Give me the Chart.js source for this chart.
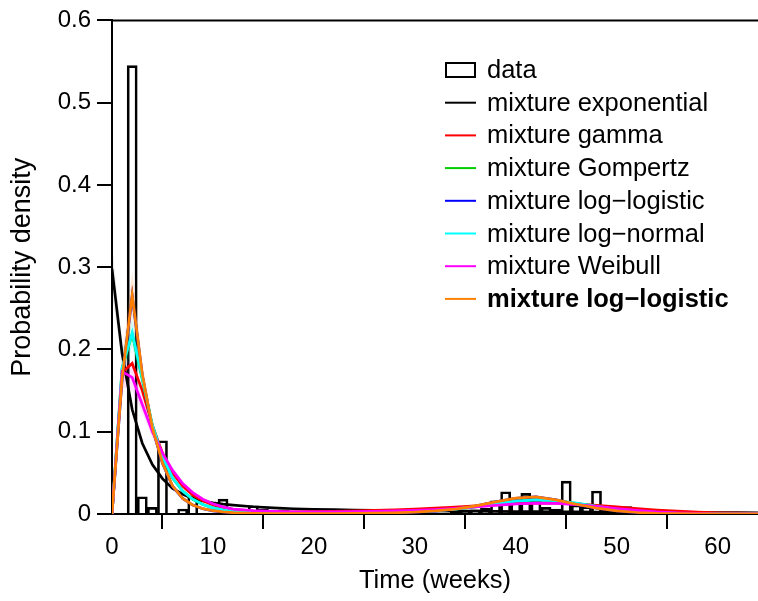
<!DOCTYPE html>
<html>
<head>
<meta charset="utf-8">
<script src="https://cdn.jsdelivr.net/npm/chart.js@4.4.1/dist/chart.umd.min.js"></script>
<style>
  html, body { margin: 0; padding: 0; background: #fff; }
</style>
</head>
<body>
<canvas id="chart" width="758" height="601"></canvas>
<script>
// Histogram bins (centre of each 1-week bin) and observed density
const binWeeks = [0, 1, 2, 3, 4, 5, 6, 7, 8, 9, 10, 11, 12, 13, 14, 15, 16, 17, 18, 19,
  20, 21, 22, 23, 24, 25, 26, 27, 28, 29, 30, 31, 32, 33, 34, 35, 36, 37, 38, 39,
  40, 41, 42, 43, 44, 45, 46, 47, 48, 49, 50, 51, 52, 53, 54, 55, 56, 57, 58, 59,
  60, 61, 62, 63];
const histDensity = [0, 0, 0.545, 0.021, 0.008, 0.089, 0, 0.006, 0.022, 0,
  0, 0.018, 0, 0, 0.010, 0.006, 0, 0.005, 0, 0.003,
  0, 0, 0.002, 0, 0, 0, 0, 0, 0, 0,
  0, 0, 0, 0.001, 0.002, 0.003, 0.005, 0.007, 0.016, 0.027,
  0.017, 0.025, 0.017, 0.008, 0.006, 0.040, 0.011, 0.009, 0.028, 0.006,
  0, 0.009, 0, 0, 0.004, 0, 0, 0.003, 0, 0,
  0, 0, 0.002, 0];

// Weeks where the fitted curves are evaluated
const curveWeeks = [0, 1, 2, 3, 4, 5, 6, 7, 8, 9, 10, 11, 12, 14, 16, 18, 20, 22, 24, 26,
  28, 30, 32, 34, 36, 38, 40, 42, 44, 46, 48, 50, 52, 54, 56, 58, 60, 62, 64];

const expFit = [0.298, 0.195, 0.127, 0.086, 0.060, 0.043, 0.031, 0.024, 0.019, 0.0158,
  0.0137, 0.012, 0.0108, 0.0088, 0.0074, 0.0064, 0.0057, 0.0052, 0.0048, 0.0045,
  0.0042, 0.0040, 0.0038, 0.0036, 0.0034, 0.0032, 0.0030, 0.0028, 0.0027, 0.0025,
  0.0024, 0.0022, 0.0021, 0.0020, 0.0019, 0.0018, 0.0017, 0.0016, 0.0015];
const gammaFit = [0, 0.172, 0.183, 0.150, 0.108, 0.074, 0.050, 0.034, 0.023, 0.016,
  0.011, 0.0078, 0.0057, 0.0035, 0.0028, 0.0026, 0.0028, 0.0032, 0.0037, 0.0043,
  0.0051, 0.0060, 0.0071, 0.0084, 0.0099, 0.0114, 0.0126, 0.0132, 0.0131, 0.0122,
  0.0106, 0.0086, 0.0066, 0.0048, 0.0034, 0.0023, 0.0015, 0.0010, 0.0007];
const gompertzFit = [0, 0.177, 0.219, 0.164, 0.1075, 0.0695, 0.0437, 0.0278, 0.0179, 0.0114,
  0.0074, 0.0049, 0.0032, 0.0017, 0.0011, 0.0009, 0.0009, 0.0010, 0.0012, 0.0015,
  0.0020, 0.0028, 0.0040, 0.0059, 0.0087, 0.0123, 0.0156, 0.0171, 0.0161, 0.0131,
  0.0093, 0.0057, 0.0031, 0.0015, 0.0007, 0.0003, 0.0001, 0.0001, 0];
const logLogisticFit = [0, 0.164, 0.265, 0.169, 0.1045, 0.0617, 0.0338, 0.0189, 0.0109, 0.0064,
  0.0039, 0.0024, 0.0015, 0.0007, 0.0004, 0.0003, 0.0003, 0.0004, 0.0006, 0.0009,
  0.0014, 0.0022, 0.0036, 0.0059, 0.0097, 0.0147, 0.0191, 0.0207, 0.0171, 0.0117,
  0.0071, 0.0037, 0.0017, 0.0007, 0.0003, 0.0002, 0.0001, 0.0001, 0.0001];
const logNormalFit = [0, 0.178, 0.220, 0.165, 0.108, 0.070, 0.044, 0.028, 0.018, 0.0115,
  0.0075, 0.0050, 0.0033, 0.0018, 0.0012, 0.0010, 0.0010, 0.0011, 0.0013, 0.0016,
  0.0021, 0.0029, 0.0041, 0.0060, 0.0088, 0.0124, 0.0157, 0.0172, 0.0162, 0.0132,
  0.0094, 0.0058, 0.0032, 0.0016, 0.0008, 0.0004, 0.0002, 0.0001, 0.0001];
const weibullFit = [0, 0.173, 0.166, 0.133, 0.100, 0.074, 0.053, 0.037, 0.026, 0.018,
  0.0125, 0.0087, 0.0060, 0.0041, 0.0031, 0.0026, 0.0025, 0.0026, 0.0029, 0.0033,
  0.0038, 0.0045, 0.0055, 0.0069, 0.0087, 0.0106, 0.0122, 0.0131, 0.0128, 0.0114,
  0.0092, 0.0067, 0.0044, 0.0026, 0.0014, 0.0007, 0.0003, 0.0002, 0.0001];
const bestFit = [0, 0.165, 0.266, 0.170, 0.105, 0.062, 0.034, 0.019, 0.011, 0.0065,
  0.0040, 0.0025, 0.0016, 0.0008, 0.0005, 0.0004, 0.0004, 0.0005, 0.0007, 0.0010,
  0.0015, 0.0023, 0.0037, 0.0060, 0.0098, 0.0148, 0.0192, 0.0208, 0.0172, 0.0118,
  0.0072, 0.0038, 0.0018, 0.0008, 0.0004, 0.0002, 0.0001, 0.0001, 0.0001];

// Confidence bands (early peak and second hump)
const bandWeeks = [0, 1, 2, 3, 4, 5, 6, 7, 8];
const bestUpper = [0, 0.190, 0.295, 0.185, 0.112, 0.068, 0.038, 0.021, 0.012];
const bestLower = [0, 0.140, 0.240, 0.155, 0.098, 0.058, 0.031, 0.017, 0.010];
const logNormalUpper = [0, 0.198, 0.236, 0.176, 0.114, 0.074, 0.047, 0.030, 0.019];
const logNormalLower = [0, 0.158, 0.204, 0.154, 0.102, 0.066, 0.041, 0.026, 0.017];
const weibullUpper = [0, 0.192, 0.182, 0.143, 0.107, 0.079, 0.057, 0.040, 0.028];
const weibullLower = [0, 0.154, 0.150, 0.123, 0.093, 0.069, 0.049, 0.034, 0.024];
const expBandWeeks = [0, 1, 2, 3];
const expUpper = [0.330, 0.207, 0.133, 0.089];
const expLower = [0.268, 0.183, 0.121, 0.083];
const humpWeeks = [34, 36, 38, 40, 42, 44, 46, 48, 50];
const bestHumpUpper = [0.0068, 0.0108, 0.0162, 0.0208, 0.0225, 0.0188, 0.0130, 0.0081, 0.0044];
const bestHumpLower = [0.0052, 0.0088, 0.0134, 0.0176, 0.0191, 0.0156, 0.0106, 0.0063, 0.0032];

const legendLabels = ["data", "mixture exponential", "mixture gamma", "mixture Gompertz",
  "mixture log\u2212logistic", "mixture log\u2212normal", "mixture Weibull", "mixture log\u2212logistic"];
const legendColors = ["#000000", "#000000", "#ff0000", "#00cc00", "#0000ff", "#00ffff", "#ff00ff", "#ff8000"];

Chart.defaults.font.family = "'Liberation Sans', Arial, Helvetica, sans-serif";
Chart.defaults.color = "#000";

function points(xs, ys) {
  return xs.map(function (x, i) { return { x: x, y: ys[i] }; });
}

function curve(label, ys, color, order) {
  return {
    type: "line", label: label, data: points(curveWeeks, ys),
    borderColor: color, borderWidth: 2.7, pointRadius: 0, tension: 0,
    fill: false, order: order
  };
}

// lower edge then upper edge filled down to it
function band(xs, lower, upper, color) {
  return [
    { type: "line", data: points(xs, lower), borderWidth: 0, pointRadius: 0, fill: false, order: 8 },
    { type: "line", data: points(xs, upper), borderWidth: 0, pointRadius: 0, fill: "-1",
      backgroundColor: color, order: 8 }
  ];
}

// top frame line
const topFrame = {
  id: "topFrame",
  afterDatasetsDraw(chart) {
    const ctx = chart.ctx;
    const a = chart.chartArea;
    ctx.save();
    ctx.strokeStyle = "#000";
    ctx.lineWidth = 2;
    ctx.beginPath();
    ctx.moveTo(a.left - 1, a.top);
    ctx.lineTo(a.right, a.top);
    ctx.stroke();
    ctx.restore();
  }
};

// legend drawn inside the plot
const insideLegend = {
  id: "insideLegend",
  afterDraw(chart) {
    const ctx = chart.ctx;
    const x0 = 445, y0 = 70, step = 32.7;
    ctx.save();
    ctx.textBaseline = "middle";
    ctx.fillStyle = "#000";
    legendLabels.forEach(function (text, i) {
      const y = y0 + i * step;
      ctx.lineWidth = 2;
      ctx.strokeStyle = legendColors[i];
      if (i === 0) {
        ctx.strokeRect(x0 + 1, y - 7, 29, 14);
      } else {
        ctx.beginPath();
        ctx.moveTo(x0, y);
        ctx.lineTo(x0 + 31, y);
        ctx.stroke();
      }
      ctx.font = (i === legendLabels.length - 1 ? "bold " : "") + "25.5px 'Liberation Sans', Arial, sans-serif";
      ctx.fillText(text, x0 + 42, y + 1);
    });
    ctx.restore();
  }
};

const axisGrid = {
  drawOnChartArea: false, drawTicks: true, tickLength: 15, color: "#000", lineWidth: 2
};

const myChart = new Chart(document.getElementById("chart"), {
  type: "bar",
  data: {
    datasets: [
      curve("mixture log-logistic (best)", bestFit, "#ff8000", 0),
      curve("mixture Weibull", weibullFit, "#ff00ff", 1),
      curve("mixture log-normal", logNormalFit, "#00ffff", 2),
      curve("mixture log-logistic", logLogisticFit, "#0000ff", 3),
      curve("mixture Gompertz", gompertzFit, "#00cc00", 4),
      curve("mixture gamma", gammaFit, "#ff0000", 5),
      curve("mixture exponential", expFit, "#000000", 6),
      ...band(bandWeeks, bestLower, bestUpper, "rgba(255,140,40,0.2)"),
      ...band(bandWeeks, logNormalLower, logNormalUpper, "rgba(0,230,230,0.2)"),
      ...band(bandWeeks, weibullLower, weibullUpper, "rgba(255,0,255,0.12)"),
      ...band(expBandWeeks, expLower, expUpper, "rgba(0,0,0,0.08)"),
      ...band(humpWeeks, bestHumpLower, bestHumpUpper, "rgba(255,140,40,0.2)"),
      {
        type: "bar", label: "data", data: points(binWeeks, histDensity),
        backgroundColor: "rgba(0,0,0,0)", borderColor: "#000", borderWidth: 2,
        barPercentage: 1, categoryPercentage: 1, order: 10
      }
    ]
  },
  options: {
    responsive: false,
    animation: false,
    layout: { padding: { top: 20, right: 0, left: 0, bottom: 0 } },
    plugins: { legend: { display: false }, tooltip: { enabled: false } },
    scales: {
      x: {
        type: "linear", min: 0, max: 64, offset: false,
        grid: axisGrid,
        border: { display: true, color: "#000", width: 2 },
        ticks: { stepSize: 10, includeBounds: false, maxRotation: 0, padding: 4, font: { size: 24 } },
        afterBuildTicks(scale) { scale.ticks = scale.ticks.filter(function (t) { return t.value % 10 === 0; }); },
        title: { display: true, text: "Time (weeks)", font: { size: 25.5 }, padding: { top: 0, bottom: 5 } },
        afterFit(scale) { scale.height = 87; }
      },
      y: {
        min: 0, max: 0.6,
        grid: axisGrid,
        border: { display: true, color: "#000", width: 2 },
        ticks: { stepSize: 0.1, padding: 6, font: { size: 24 } },
        title: { display: true, text: "Probability density", font: { size: 27 }, padding: { top: 6, bottom: 0 } },
        afterFit(scale) { scale.width = 112; }
      }
    }
  },
  plugins: [topFrame, insideLegend]
});
</script>
</body>
</html>
